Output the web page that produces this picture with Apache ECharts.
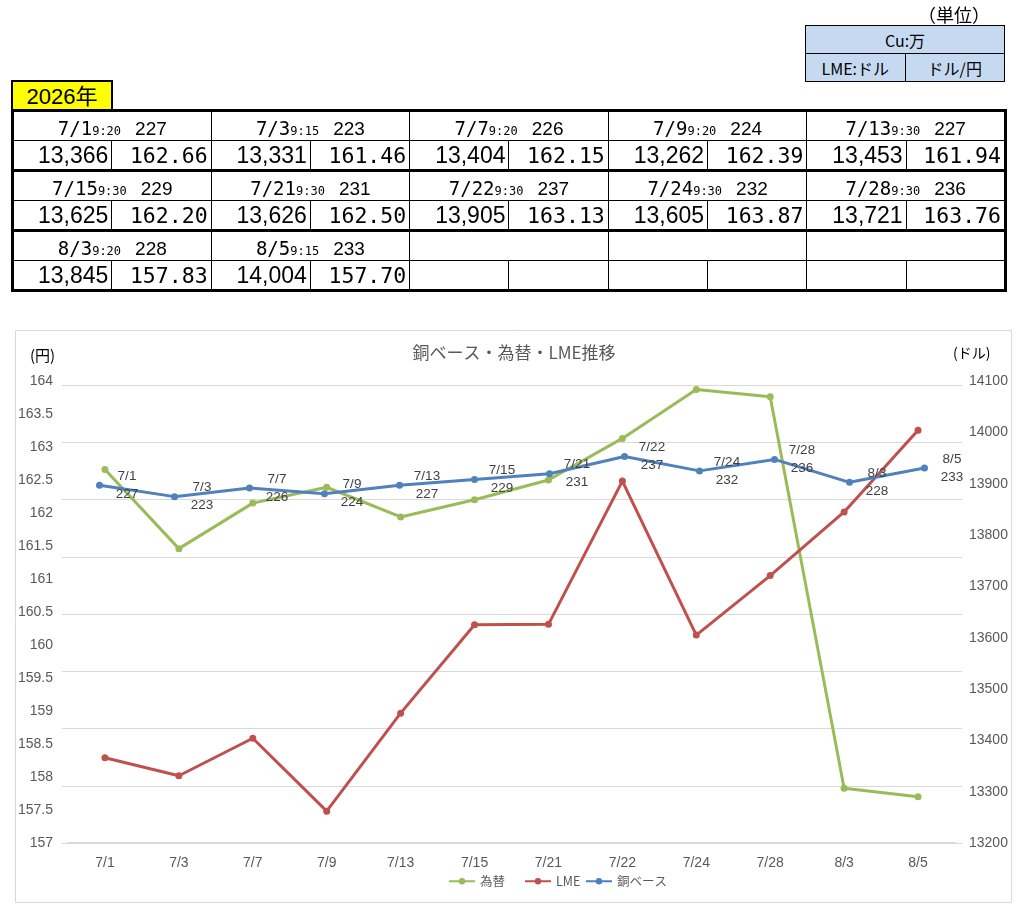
<!DOCTYPE html>
<html>
<head>
<meta charset="utf-8">
<script src="https://cdn.jsdelivr.net/npm/echarts@6/dist/echarts.min.js"></script>
<style>
html,body{margin:0;padding:0;background:#fff;}
#wrap{position:relative;width:1036px;height:920px;overflow:hidden;}
#chart{position:absolute;left:0;top:0;width:1036px;height:920px;}
.abs{position:absolute;}
#unit{left:918px;top:1px;font:18px "Noto Sans CJK JP",sans-serif;color:#000;}
#cubox{left:805px;top:25px;width:200px;height:57px;border-collapse:collapse;table-layout:fixed;background:#C5D9F1;}
#cubox td{border:1.5px solid #000;padding:0;text-align:center;font:16px "Noto Sans CJK JP",sans-serif;color:#000;line-height:26px;}
#year{left:11px;top:80px;width:98px;height:27px;background:#ffff00;border:2px solid #000;border-bottom:none;text-align:center;font:22px "Liberation Sans","Noto Sans CJK JP",sans-serif;line-height:30px;color:#000;}
#tbl{left:11px;top:109px;width:993px;border-collapse:collapse;table-layout:fixed;border:3px solid #000;}
#tbl td{padding:0;height:28px;color:#000;white-space:nowrap;overflow:hidden;}
#tbl tr.d td{border-left:1.5px solid #000;border-right:1.5px solid #000;border-bottom:1.2px solid #000;text-align:center;vertical-align:bottom;}
#tbl tr.v td{border-left:1.5px solid #000;border-right:1.5px solid #000;border-bottom:3px solid #000;text-align:right;vertical-align:bottom;}
.dt{font:19px "DejaVu Sans Mono",monospace;}
.tm{font:12px "DejaVu Sans Mono",monospace;}
.cb{font:19px "Liberation Sans",sans-serif;margin-left:14px;}
.lme{font:23px "Liberation Sans",sans-serif;padding-right:3px;line-height:27px;}
.fx{font:21.5px "DejaVu Sans Mono",monospace;padding-right:3px;line-height:27px;}
</style>
</head>
<body>
<div id="wrap">
<div id="chart"></div>
<div id="unit" class="abs">（単位）</div>
<table id="cubox" class="abs">
<tr><td colspan="2">Cu:万</td></tr>
<tr><td>LME:ドル</td><td>ドル/円</td></tr>
</table>
<div id="year" class="abs">2026年</div>
<table id="tbl" class="abs"></table>
</div>
<script>
// ---- data ----
const dates = ['7/1','7/3','7/7','7/9','7/13','7/15','7/21','7/22','7/24','7/28','8/3','8/5'];
const times = ['9:20','9:15','9:20','9:20','9:30','9:30','9:30','9:30','9:30','9:30','9:20','9:15'];
const copperBase = [227,223,226,224,227,229,231,237,232,236,228,233];
const lmeValues = [13366,13331,13404,13262,13453,13625,13626,13905,13605,13721,13845,14004];
const fxValues = [162.66,161.46,162.15,162.39,161.94,162.20,162.50,163.13,163.87,163.76,157.83,157.70];
const seriesNames = ['為替','LME','銅ベース'];
const chartTitle = '銅ベース・為替・LME推移';

// ---- table ----
(function(){
  const tbl = document.getElementById('tbl');
  let html = '<colgroup>' + '<col style="width:99.3px">'.repeat(10) + '</colgroup>';
  const groupsPerRow = 5, rows = 3;
  for (let r = 0; r < rows; r++) {
    let d = '<tr class="d">', v = '<tr class="v">';
    for (let c = 0; c < groupsPerRow; c++) {
      const i = r * groupsPerRow + c;
      if (i < dates.length) {
        d += '<td colspan="2"><span class="dt">' + dates[i] + '</span><span class="tm">' + times[i] + '</span><span class="cb">' + copperBase[i] + '</span></td>';
        v += '<td><span class="lme">' + lmeValues[i].toLocaleString('en-US') + '</span></td><td><span class="fx">' + fxValues[i].toFixed(2) + '</span></td>';
      } else {
        d += '<td colspan="2">&nbsp;</td>';
        v += '<td>&nbsp;</td><td>&nbsp;</td>';
      }
    }
    html += d + '</tr>' + v + '</tr>';
  }
  tbl.innerHTML = html;
})();

// ---- chart ----
const chart = echarts.init(document.getElementById('chart'), null, {renderer:'canvas'});
const axisFont = {color:'#595959', fontSize:14, fontFamily:'Liberation Sans, sans-serif'};
const legendBase = {
  orient:'horizontal', top:875, itemWidth:26, itemHeight:8, itemGap:8,
  textStyle:{color:'#595959', fontSize:12.5, fontFamily:'Noto Sans CJK JP, sans-serif'},
  padding:0, selectedMode:false
};
const option = {
  animation:false,
  backgroundColor:'#ffffff',
  grid:[
    {left:68, right:81, top:381, bottom:77, containLabel:false},
    {left:62, right:74, top:385, bottom:77, containLabel:false}
  ],
  xAxis:[
    {type:'category', gridIndex:0, data:dates, boundaryGap:true,
     axisLine:{show:true, lineStyle:{color:'#d9d9d9', width:2}},
     axisTick:{show:false}, axisLabel:Object.assign({margin:13, interval:0}, axisFont),
     splitLine:{show:false}},
    {type:'category', gridIndex:1, data:dates, boundaryGap:true, show:false}
  ],
  yAxis:[
    {type:'value', gridIndex:0, position:'left', min:157, max:164, interval:0.5,
     axisLine:{show:false}, axisTick:{show:false}, splitLine:{show:false},
     axisLabel:Object.assign({margin:15, formatter:function(v){return String(v);}}, axisFont)},
    {type:'value', gridIndex:0, position:'right', min:13200, max:14100, interval:100,
     axisLine:{show:false}, axisTick:{show:false}, splitLine:{show:false},
     axisLabel:Object.assign({margin:14, formatter:function(v){return String(v);}}, axisFont)},
    {type:'value', gridIndex:1, min:102, max:262, show:false, splitLine:{show:false}},
    {type:'value', gridIndex:1, min:0, max:8, interval:1,
     axisLine:{show:false}, axisTick:{show:false}, axisLabel:{show:false},
     splitLine:{show:true, lineStyle:{color:'#d9d9d9', width:1}}}
  ],
  legend:[
    Object.assign({left:448, data:[seriesNames[0]]}, legendBase),
    Object.assign({left:524, data:[seriesNames[1]]}, legendBase),
    Object.assign({left:585, data:[seriesNames[2]]}, legendBase)
  ],
  graphic:[
    {type:'rect', silent:true, shape:{x:15.5, y:330.5, width:996, height:572},
     style:{fill:'none', stroke:'#d9d9d9', lineWidth:1}},
    {type:'text', silent:true, x:514, y:353,
     style:{text:chartTitle, fill:'#595959', font:'17px "Noto Sans CJK JP", sans-serif', align:'center', verticalAlign:'middle'}},
    {type:'text', silent:true, x:30, y:355,
     style:{text:'(円)', fill:'#000', font:'15px "Noto Sans CJK JP", sans-serif', align:'left', verticalAlign:'middle'}},
    {type:'text', silent:true, x:953, y:353,
     style:{text:'(ドル)', fill:'#000', font:'14px "Noto Sans CJK JP", sans-serif', align:'left', verticalAlign:'middle'}}
  ],
  series:[
    {name:seriesNames[0], type:'line', xAxisIndex:0, yAxisIndex:0, data:fxValues,
     color:'#9BBB59', symbol:'circle', symbolSize:7, showAllSymbol:true,
     lineStyle:{width:3, color:'#9BBB59'}, itemStyle:{color:'#9BBB59'}},
    {name:seriesNames[1], type:'line', xAxisIndex:0, yAxisIndex:1, data:lmeValues,
     color:'#C0504D', symbol:'circle', symbolSize:7, showAllSymbol:true,
     lineStyle:{width:3, color:'#C0504D'}, itemStyle:{color:'#C0504D'}},
    {name:seriesNames[2], type:'line', xAxisIndex:1, yAxisIndex:2, data:copperBase,
     color:'#4F81BD', symbol:'circle', symbolSize:7, showAllSymbol:true,
     lineStyle:{width:3, color:'#4F81BD'}, itemStyle:{color:'#4F81BD'},
     label:{show:true, position:'right', distance:11,
       formatter:function(p){return '{a|' + dates[p.dataIndex] + '}\n{a|' + p.value + '}';},
       rich:{a:{width:26, align:'center', fontSize:13.5, lineHeight:18, color:'#404040', fontFamily:'Liberation Sans, sans-serif'}}}}
  ]
};
chart.setOption(option);
</script>
</body>
</html>
